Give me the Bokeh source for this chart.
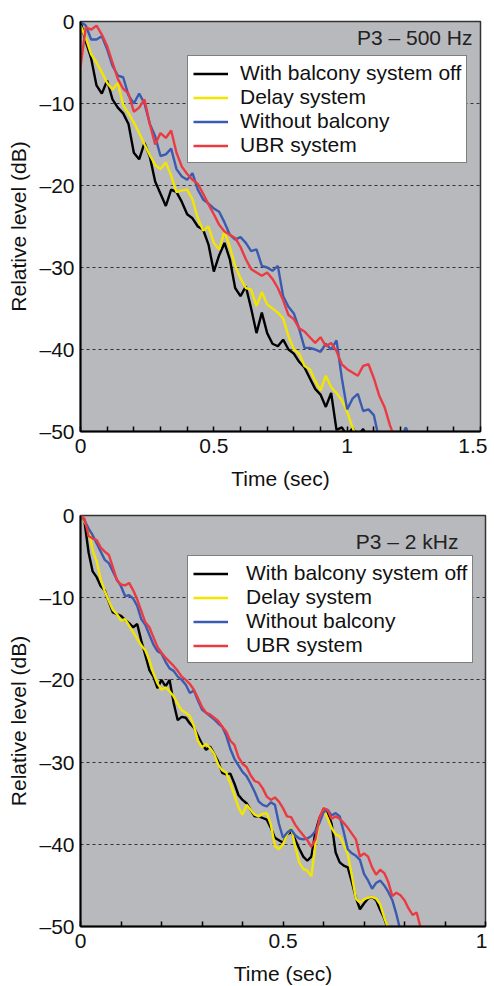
from bokeh.plotting import figure
from bokeh.models import Range1d, FixedTicker, Legend, LegendItem, Label, CustomJSTickFormatter
from bokeh.layouts import column
from bokeh.embed import file_html
from bokeh.resources import INLINE

# ---------------- data ----------------
series_names = ["With balcony system off", "Delay system", "Without balcony", "UBR system"]
series_colors = ["#000000", "#f2e600", "#3a5bb0", "#ec3a42"]

# 500 Hz panel, sampled every 0.02 s
time_500 = [i * 0.02 for i in range(63)]
off_500 = [0, -2.5, -4.5, -7.8, -8.8, -7.2, -9.5, -10.5, -11.2, -12.5, -16, -16.8, -14.8, -16.5,
           -19.5, -21, -22.5, -20.5, -20.8, -22, -23.5, -24, -25, -25.4, -27.2, -30.5, -28.5, -27,
           -29, -32.5, -33.5, -32.3, -35, -38, -35.5, -38, -39.3, -39.6, -38.8, -40, -40.5, -41.5,
           -42.2, -43.5, -44.8, -45.5, -47, -45.3, -49.8, -49.5, -50.5, -49.6, -50.5, -49.7, -51]
delay_500 = [-0.5, -2, -4, -5, -6.2, -7.5, -8.3, -7.5, -10.2, -11.2, -12.3, -13.6, -15, -16.3,
             -17.5, -18, -17.2, -18.8, -20.8, -20.6, -20.5, -21.7, -24, -25.5, -25, -27, -27.8,
             -25.6, -27.5, -29.8, -31.3, -32.5, -32.7, -34.7, -33, -34.5, -35, -35.5, -36.2, -38.4,
             -40, -40.5, -42, -42.4, -43.8, -45, -43.2, -44.6, -45.3, -46.2, -47.6, -49.5, -51]
nob_500 = [0, -0.5, -2.2, -2.2, -1.8, -3.4, -5.4, -6.6, -6.8, -9, -10, -8.8, -10, -12.5, -14,
           -16.4, -16.2, -15.5, -18, -18.9, -19.3, -18.5, -20.5, -21.7, -22.2, -22.8, -23.2, -24.5,
           -26, -26.6, -26.3, -27, -28, -27.8, -29.8, -30, -30.4, -29.8, -33.5, -34.8, -35.6, -37.5,
           -39.8, -39.8, -40, -40.3, -39.3, -40, -38.9, -43.5, -47.3, -46, -45.4, -47.5, -47.3, -48,
           -51, float("nan"), float("nan"), float("nan"), -51, -49.5, -51]
ubr_500 = [-5.5, -0.7, -1, -0.5, -1.6, -3, -5, -7, -8.2, -8.8, -11, -10.5, -9.5, -12.5, -15,
           -13.6, -14.2, -13.3, -16, -17.7, -18.6, -19.3, -19.8, -21, -22.3, -23.5, -24.8, -25.6,
           -26, -26.4, -27.5, -29, -30.2, -30.6, -31, -30.6, -31.4, -32.5, -34, -35.8, -36.3, -37.4,
           -37.8, -38.5, -39.2, -38.5, -39.6, -39.2, -40.2, -41.8, -42.4, -42.8, -43.2, -42, -41.8,
           -43.5, -45.6, -47, -49.2, -51]

# 2 kHz panel, sampled every 0.01 s
time_2k = [i * 0.01 for i in range(85)]
off_2k = [0, -0.8, -4.5, -6.8, -7.5, -8.6, -9.1, -10.5, -11.8, -12,
          -12.2, -12.7, -13.1, -13.6, -13.2, -15.2, -17, -18.8, -19.6, -21,
          -20, -20.8, -20, -22.8, -24.9, -24.5, -24.6, -25.3, -25.8, -26.8,
          -27.8, -28.5, -28.1, -29, -29.9, -31.3, -31.5, -31.4, -32.6, -34,
          -34.6, -35, -35.8, -36.6, -36.6, -36.8, -37, -38, -39.2, -39.5,
          -39.8, -38.8, -38.5, -39.4, -40.5, -41.5, -42, -41.5, -38.5, -36.8,
          -35.8, -36, -37.5, -41, -42.2, -42.6, -42.8, -44.6, -46.5, -47.9,
          -47.2, -46.6, -46.4, -46.8, -48, -49, -50.5]
delay_2k = [0, -0.8, -1.6, -4.2, -5.6, -7.8, -9.2, -10.4, -11.5, -12,
            -12.8, -12.6, -13.4, -14.2, -15, -15.8, -16.4, -17.6, -19.2, -20.4,
            -21.2, -20.9, -21.4, -22, -22.9, -23.7, -24, -24.4, -25.6, -27.4,
            -28.2, -27.8, -28.3, -29, -30.3, -31, -31.3, -32.6, -34, -35.5,
            -36.4, -35.2, -35.8, -36.4, -36.6, -36.3, -36.2, -37.6, -40.2, -40.6,
            -40, -38.8, -38, -40.2, -42.2, -43, -43.2, -43.9, -40, -37.2,
            -35.9, -36.8, -38, -38.8, -39, -40, -41.2, -43.8, -46.6, -47.1,
            -46.7, -46.5, -46.4, -46.6, -47.3, -48.9, -50.3]
nob_2k = [0, -0.6, -1.6, -2.4, -3.4, -4.4, -5.4, -5.8, -6.8, -7.8,
          -8.6, -9.8, -9.7, -10.1, -11, -12.6, -13.3, -14.5, -15.7, -16.5,
          -16.8, -17.8, -18.6, -18.9, -19.6, -20, -20.6, -21.6, -21.3, -22.5,
          -23.6, -24, -24.4, -24.8, -25.3, -25.7, -26.8, -28.4, -29.6, -30.4,
          -31.2, -31.7, -32.6, -33.6, -34.8, -35.2, -35.4, -34.9, -35.2, -37.5,
          -39.2, -38.6, -38.2, -38.9, -39.3, -39.4, -39.3, -39, -38.4, -37.4,
          -36.1, -35.8, -36.5, -36.2, -36.6, -38.5, -40.6, -41.1, -41.4, -41.9,
          -43.6, -44.4, -45.4, -44.7, -44.4, -45, -45.8, -46.8, -48.5, -50.5]
ubr_2k = [0, -0.4, -2.5, -2.8, -3, -3.9, -4.4, -4.8, -6.3, -7.9,
          -8.4, -8.5, -8.2, -9.1, -10.2, -11.6, -13, -13.6, -14.8, -16,
          -16.7, -17.3, -17.8, -18.3, -18.9, -19.6, -20, -20.5, -21.2, -22.2,
          -23.3, -24, -24.2, -24.6, -25, -25.7, -26.3, -27.4, -27.9, -29.4,
          -30.2, -30.6, -31.6, -32.3, -32.5, -33.2, -34.2, -34.6, -34.3, -34.8,
          -35.6, -36.6, -36.7, -37.6, -38.3, -38.9, -39.5, -40.3, -39.4, -36.8,
          -35.6, -35.8, -36.9, -36.6, -36.9, -37.4, -38, -38.7, -39.4, -41.5,
          -41.1, -41.5, -42.8, -43.7, -43.1, -43.5, -44.6, -46.3, -45.9, -46.2,
          -46.8, -47.8, -48.6, -48.3, -50.2]

y_ticks = [-50, -40, -30, -20, -10, 0]
grid_ticks = [-40, -30, -20, -10]
x_ticks_500 = [0, 0.5, 1, 1.5]
x_minor_500 = [0.1, 0.2, 0.3, 0.4, 0.6, 0.7, 0.8, 0.9, 1.1, 1.2, 1.3, 1.4]
x_ticks_2k = [0, 0.5, 1]
x_minor_2k = [0.1, 0.2, 0.3, 0.4, 0.6, 0.7, 0.8, 0.9]

FONT = "Liberation Sans"
FS = "21px"
BG = "#b8b9bd"
TXT = "#111111"


def make_panel(time, curves, xmax, xticks, xminor, title, fw, fh, bl, bt, bb, br,
               leg_loc, standoff, tx_off, ty_off):
    p = figure(frame_width=fw, frame_height=fh,
               x_range=Range1d(0, xmax), y_range=Range1d(-50, 0),
               output_backend="svg", toolbar_location=None,
               min_border_left=bl, min_border_top=bt, min_border_bottom=bb, min_border_right=br,
               background_fill_color=BG, border_fill_color="white")
    p.outline_line_color = "#333333"
    p.outline_line_width = 1.5

    p.xgrid.visible = False
    p.ygrid.ticker = FixedTicker(ticks=grid_ticks)
    p.ygrid.grid_line_color = "#333333"
    p.ygrid.grid_line_dash = "3 3"
    p.ygrid.grid_line_width = 1

    p.yaxis.ticker = FixedTicker(ticks=y_ticks)
    p.yaxis.formatter = CustomJSTickFormatter(
        code="return tick < 0 ? '\u2013' + Math.abs(tick) : String(tick);")
    p.yaxis.major_tick_in = 0
    p.yaxis.major_tick_out = 0
    p.yaxis.axis_label = "Relative level (dB)"
    p.yaxis.major_label_standoff = 6
    p.yaxis.axis_label_standoff = 6

    p.xaxis.ticker = FixedTicker(ticks=xticks, minor_ticks=xminor)
    p.xaxis.formatter = CustomJSTickFormatter(code="return String(tick);")
    p.xaxis.major_tick_in = 5
    p.xaxis.major_tick_out = 0
    p.xaxis.minor_tick_in = 5
    p.xaxis.minor_tick_out = 0
    p.xaxis.major_tick_line_width = 1.5
    p.xaxis.minor_tick_line_width = 1.5
    p.xaxis.axis_label = "Time (sec)"
    p.xaxis.major_label_standoff = 7
    p.xaxis.axis_label_standoff = 11

    for ax in (p.xaxis[0], p.yaxis[0]):
        ax.axis_line_color = "black"
        ax.axis_line_width = 2
        ax.major_tick_line_color = "black"
        ax.major_label_text_font = FONT
        ax.major_label_text_font_size = FS
        ax.major_label_text_color = TXT
        ax.axis_label_text_font = FONT
        ax.axis_label_text_font_size = FS
        ax.axis_label_text_font_style = "normal"
        ax.axis_label_text_color = TXT
    p.xaxis.minor_tick_line_color = "black"
    p.yaxis.minor_tick_line_color = None

    items = []
    for name, color, vals in zip(series_names, series_colors, curves):
        r = p.line(time[:len(vals)], vals, line_color=color, line_width=2.4)
        items.append(LegendItem(label=name, renderers=[r]))

    legend = Legend(items=items, location=leg_loc,
                    label_text_font=FONT, label_text_font_size=FS, label_text_color=TXT,
                    label_height=21, glyph_height=21, glyph_width=35, label_standoff=standoff,
                    padding=5, spacing=-5, margin=0,
                    border_line_color="black", border_line_width=1.5,
                    background_fill_color="white", background_fill_alpha=1.0)
    p.add_layout(legend)

    p.add_layout(Label(x=xmax, y=0, x_offset=tx_off, y_offset=ty_off, text=title,
                       text_align="right", text_baseline="top",
                       text_font=FONT, text_font_size=FS, text_color="#222222"))
    return p


p1 = make_panel(time_500, [off_500, delay_500, nob_500, ubr_500], 1.5, x_ticks_500, x_minor_500,
                "P3 \u2013 500 Hz", 400, 410, 79, 21, 65, 8, (107, 268), 12, -8, -4)
p2 = make_panel(time_2k, [off_2k, delay_2k, nob_2k, ubr_2k], 1, x_ticks_2k, x_minor_2k,
                "P3 \u2013 2 kHz", 405, 411, 80, 19, 59, 2, (107, 263), 18, -27, -14)

layout = column(p1, p2, spacing=0)
open("out.html", "w").write(file_html(layout, INLINE))
